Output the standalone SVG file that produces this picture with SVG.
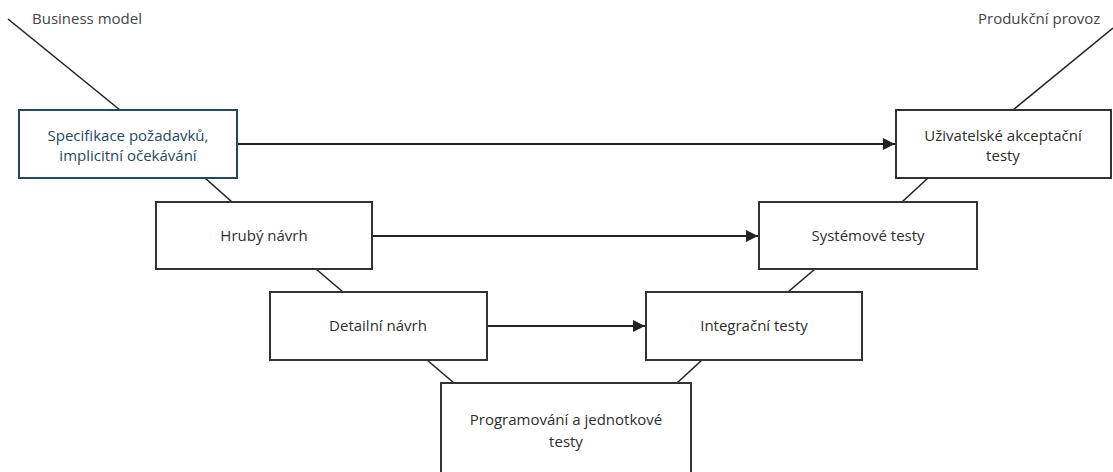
<svg xmlns="http://www.w3.org/2000/svg" width="1113" height="472" viewBox="0 0 1113 472">
  <style>
    .box { fill: #ffffff; stroke: #333333; stroke-width: 2; }
    .box-hl { fill: #ffffff; stroke: #1d4a66; stroke-width: 2; }
    .lbl { font-family: "Open Sans", "Noto Sans", sans-serif; font-size: 15px; fill: #2e2e2e; text-anchor: middle; }
    .lbl-hl { font-family: "Open Sans", "Noto Sans", sans-serif; font-size: 15px; fill: #1d4a66; text-anchor: middle; }
    .side { font-family: "Open Sans", "Noto Sans", sans-serif; font-size: 15px; fill: #444444; }
    .edge { fill: none; stroke: #222222; stroke-width: 2; }
    .leg { fill: none; stroke: #222222; stroke-width: 1.6; }
  </style>
  <defs>
    <marker id="arrow" viewBox="0 0 10 10" refX="10" refY="5" markerWidth="6" markerHeight="6" orient="auto" markerUnits="strokeWidth">
      <path d="M0,0 L10,5 L0,10 z" fill="#222222"/>
    </marker>
  </defs>

  <!-- V-shape legs between the phases -->
  <g id="connectors">
    <line class="leg" x1="8" y1="19" x2="120" y2="110"/>
    <line class="leg" x1="205" y1="178" x2="232" y2="202"/>
    <line class="leg" x1="316" y1="269" x2="343" y2="292"/>
    <line class="leg" x1="427" y1="360" x2="454" y2="383"/>

    <line class="leg" x1="1113" y1="28" x2="1013" y2="110"/>
    <line class="leg" x1="928" y1="178" x2="902" y2="202"/>
    <line class="leg" x1="815" y1="269" x2="788" y2="292"/>
    <line class="leg" x1="702" y1="360" x2="677" y2="383"/>

    <!-- verification arrows across the V -->
    <line class="edge" x1="237" y1="144" x2="895" y2="144" marker-end="url(#arrow)"/>
    <line class="edge" x1="372" y1="236" x2="758" y2="236" marker-end="url(#arrow)"/>
    <line class="edge" x1="487" y1="326" x2="645" y2="326" marker-end="url(#arrow)"/>
  </g>

  <text class="side" x="32" y="24">Business model</text>
  <text class="side" x="978" y="24">Produkční provoz</text>

  <g id="spec">
    <rect class="box-hl" x="19" y="110" width="218" height="68"/>
    <text class="lbl-hl" x="128" y="141">Specifikace požadavků,</text>
    <text class="lbl-hl" x="128" y="161">implicitní očekávání</text>
  </g>

  <g id="hruby">
    <rect class="box" x="156" y="202" width="216" height="67"/>
    <text class="lbl" x="264" y="241">Hrubý návrh</text>
  </g>

  <g id="detail">
    <rect class="box" x="270" y="292" width="217" height="68"/>
    <text class="lbl" x="378" y="331">Detailní návrh</text>
  </g>

  <g id="prog">
    <rect class="box" x="441" y="383" width="250" height="110"/>
    <text class="lbl" x="566" y="425">Programování a jednotkové</text>
    <text class="lbl" x="566" y="447">testy</text>
  </g>

  <g id="integrace">
    <rect class="box" x="646" y="292" width="216" height="68"/>
    <text class="lbl" x="754" y="331">Integrační testy</text>
  </g>

  <g id="system">
    <rect class="box" x="759" y="202" width="218" height="67"/>
    <text class="lbl" x="868" y="241">Systémové testy</text>
  </g>

  <g id="uat">
    <rect class="box" x="896" y="110" width="215" height="68"/>
    <text class="lbl" x="1003" y="141">Uživatelské akceptační</text>
    <text class="lbl" x="1003" y="161">testy</text>
  </g>
</svg>
